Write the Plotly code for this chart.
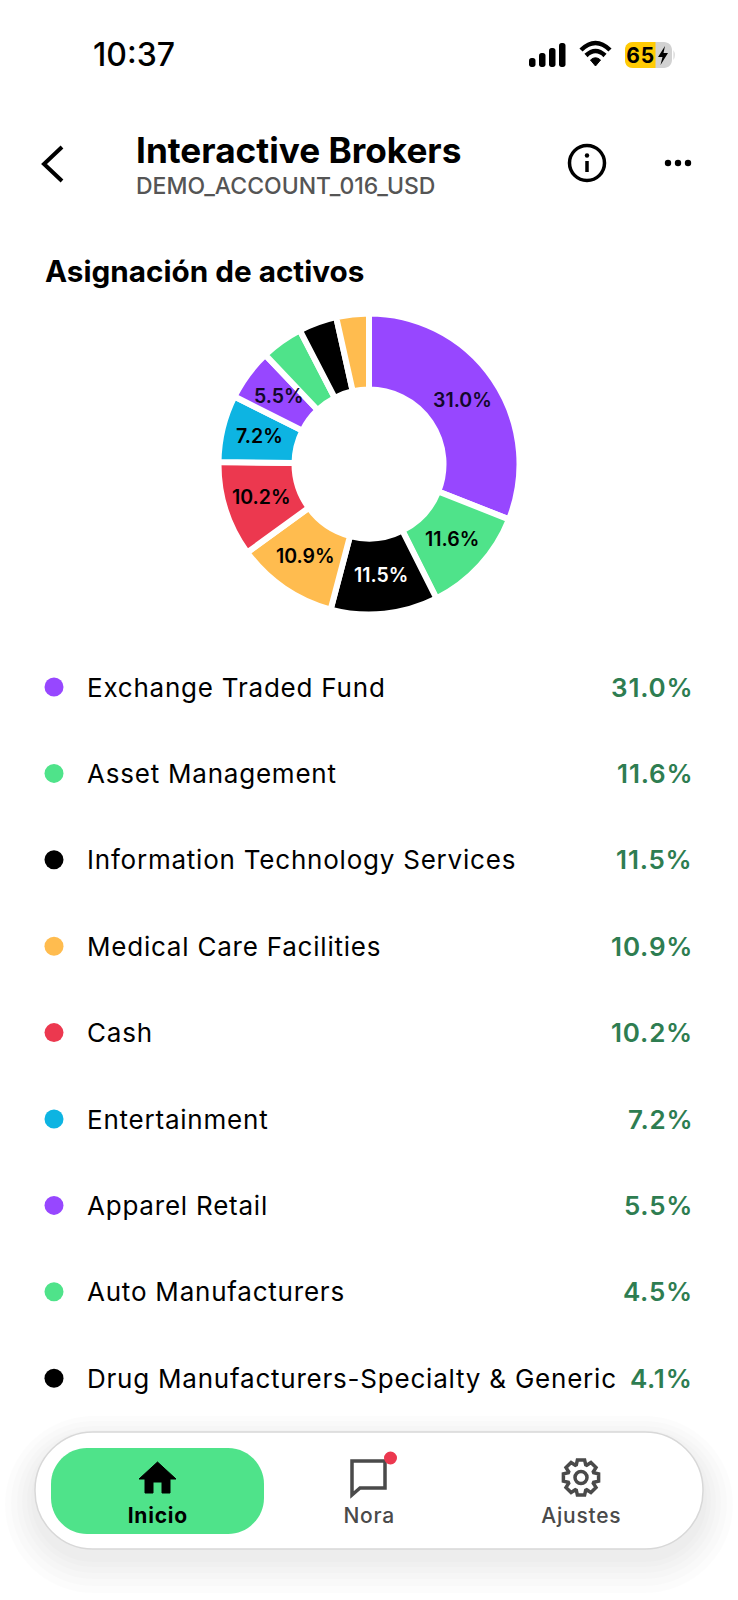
import numpy as np
import plotly.graph_objects as go

# chart data
slice_names = ["Exchange Traded Fund", "Asset Management", "Information Technology Services",
               "Medical Care Facilities", "Cash", "Entertainment", "Apparel Retail",
               "Auto Manufacturers", "Drug Manufacturers-Specialty & Generic", "Otros"]
slice_values = [31.0, 11.6, 11.5, 10.9, 10.2, 7.2, 5.5, 4.5, 4.1, 3.5]
slice_colors = ["#9747FF", "#4FE38A", "#000000", "#FFBC4F", "#EC384F",
                "#0DB4E2", "#9747FF", "#4FE38A", "#000000", "#FFBC4F"]
slice_labels = ["31.0%", "11.6%", "11.5%", "10.9%", "10.2%", "7.2%", "5.5%", "", "", ""]
label_colors = ["#12082A", "#000000", "#FFFFFF", "#000000", "#000000",
                "#000000", "#12082A", "#000000", "#000000", "#000000"]
# the last slice has no row, the list is scrolled under the nav bar
row_names = slice_names[:9]
row_values = ["31.0%", "11.6%", "11.5%", "10.9%", "10.2%", "7.2%", "5.5%", "4.5%", "4.1%"]
row_colors = slice_colors[:9]

W, H = 738, 1600
FONT = "Inter"
GREEN = "#4FE38A"
DARK = "#4A4A4A"


def pill(x0, y0, x1, y1, r):
    # rounded rect as a path, shapes have no arc command
    k = r * 0.45
    return (f"M{x0 + r},{y0} L{x1 - r},{y0} C{x1 - k},{y0} {x1},{y0 + k} {x1},{y0 + r} "
            f"L{x1},{y1 - r} C{x1},{y1 - k} {x1 - k},{y1} {x1 - r},{y1} "
            f"L{x0 + r},{y1} C{x0 + k},{y1} {x0},{y1 - k} {x0},{y1 - r} "
            f"L{x0},{y0 + r} C{x0},{y0 + k} {x0 + k},{y0} {x0 + r},{y0} Z")


def gear_path(cx, cy, r_out, r_in, teeth=8):
    pts = []
    step = 2 * np.pi / teeth
    for i in range(teeth):
        a = i * step - np.pi / 2
        for da, rad in [(-0.30, r_in), (-0.17, r_out), (0.17, r_out), (0.30, r_in)]:
            pts.append((cx + rad * np.cos(a + da * step * 1.5), cy + rad * np.sin(a + da * step * 1.5)))
    return "M" + " L".join(f"{x:.1f},{y:.1f}" for x, y in pts) + " Z"


def add_text(fig, x, y, text, size, color="#000000", anchor="left", weight=400):
    fig.add_annotation(x=x, y=y, text=text, showarrow=False, xanchor=anchor, align=anchor, yanchor="middle",
                       borderpad=0, font=dict(family=FONT, size=size, color=color, weight=weight))


def add_path(fig, path, fill=None, line=None, width=0):
    fig.add_shape(type="path", path=path, fillcolor=fill or "rgba(0,0,0,0)",
                  line=dict(color=line or "rgba(0,0,0,0)", width=width))


def add_circle(fig, cx, cy, r, fill=None, line=None, width=0):
    fig.add_shape(type="circle", x0=cx - r, x1=cx + r, y0=cy - r, y1=cy + r,
                  fillcolor=fill or "rgba(0,0,0,0)",
                  line=dict(color=line or "rgba(0,0,0,0)", width=width))


fig = go.Figure()

# donut
cx, cy, radius = 369, 464, 150.5
fig.add_trace(go.Pie(
    labels=slice_names, values=slice_values, textinfo="none", sort=False, direction="clockwise",
    rotation=0, hole=0.495, showlegend=False,
    marker=dict(colors=slice_colors, line=dict(color="#FFFFFF", width=6)),
    domain=dict(x=[(cx - radius) / W, (cx + radius) / W], y=[1 - (cy + radius) / H, 1 - (cy - radius) / H]),
))

# slice labels sit mid ring, pie's own inside text drifts on the small slices
ends = np.cumsum(slice_values)
mids = (ends - np.array(slice_values) / 2) / ends[-1] * 2 * np.pi
for mid, label, color in zip(mids, slice_labels, label_colors):
    if label:
        add_text(fig, cx + 112.5 * np.sin(mid), cy - 1 - 112.5 * np.cos(mid), label, 19.5,
                 color=color, anchor="center", weight=600)

# list rows
row_y = [687 + 86.4 * i for i in range(len(row_names))]
fig.add_trace(go.Scatter(x=[54] * len(row_y), y=row_y, mode="markers", showlegend=False,
                         marker=dict(size=19, color=row_colors, line=dict(width=0))))
for y, name, value in zip(row_y, row_names, row_values):
    add_text(fig, 85.5, y, name, 26)
    add_text(fig, 693.5, y, value, 26, color="#2E7D51", anchor="right", weight=600)

# status bar
add_text(fig, 92, 54, "10:37", 32, weight=500)
for x0, top in zip([529, 539, 549, 559], [58, 53, 48, 43]):
    add_path(fig, pill(x0, top, x0 + 6.5, 67, 2.5), fill="#000000")
add_path(fig, "M581,50 Q595.5,36 610,50", line="#000000", width=4.5)
add_path(fig, "M586,55.5 Q595.5,46.5 605,55.5", line="#000000", width=4.5)
add_path(fig, "M590.5,60 Q595.5,55.5 600.5,60 L595.5,66 Z", fill="#000000", line="#000000", width=1)
add_path(fig, pill(625, 42, 672, 68, 8), fill="#D2D2D2")
add_path(fig, "M633,42 L655.5,42 L655.5,68 L633,68 C628,68 625,65 625,60 L625,50 C625,45 628,42 633,42 Z", fill="#FFCB05")
add_path(fig, "M673.5,50 Q676,55 673.5,60 Z", fill="#D2D2D2")
add_text(fig, 640, 55, "65", 21, anchor="center", weight=700)
add_path(fig, "M665,46 L658,57 L662.5,57 L660.5,65 L668,53 L663.5,53 Z", fill="#000000")

# header
add_path(fig, "M62,147 L44,164 L62,181", line="#000000", width=4)
add_text(fig, 135, 150, "Interactive Brokers", 35.2, weight=700)
add_text(fig, 135, 186, "DEMO_ACCOUNT_016_USD", 23, color="#555555", weight=500)
add_circle(fig, 587, 163, 17.5, line="#000000", width=3.5)
add_circle(fig, 587, 155.5, 2.2, fill="#000000")
add_path(fig, "M587,161 L587,172", line="#000000", width=3.5)
for x in [668, 678, 688]:
    add_circle(fig, x, 163, 3.2, fill="#000000")
add_text(fig, 44, 271, "Asignación de activos", 29.7, weight=700)

# nav bar, shadow first
for grow, drop in [(30, 14), (24, 13), (18, 12), (13, 11), (8, 10), (4, 9)]:
    add_path(fig, pill(35 - grow, 1432 + drop - grow, 703 + grow, 1549 + drop + grow, 58 + grow),
             fill="rgba(0,0,0,0.011)")
add_path(fig, pill(35, 1432, 703, 1549, 58), fill="#FFFFFF", line="#D8D8D8", width=1.5)
add_path(fig, pill(51, 1448, 264, 1534, 36), fill=GREEN)
add_path(fig, "M139,1479 L157.5,1462 L176,1479 L170,1479 L170,1493 L162,1493 L162,1482 L153,1482 "
              "L153,1493 L145,1493 L145,1479 Z", fill="#000000", line="#000000", width=1)
add_text(fig, 157.5, 1515, "Inicio", 21, anchor="center", weight=700)
add_path(fig, "M352,1461 L385,1461 L385,1488 L360,1488 L352,1495 Z", line=DARK, width=3.5)
add_circle(fig, 390.5, 1458, 6.5, fill="#EC384F")
add_text(fig, 369, 1515, "Nora", 21, color=DARK, anchor="center", weight=500)
add_path(fig, gear_path(581, 1477.5, 18, 13.5), line=DARK, width=3.5)
add_circle(fig, 581, 1477.5, 6, line=DARK, width=3.5)
add_text(fig, 581, 1515, "Ajustes", 21, color=DARK, anchor="center", weight=500)

fig.update_xaxes(range=[0, W], visible=False, fixedrange=True)
fig.update_yaxes(range=[H, 0], visible=False, fixedrange=True)
fig.update_layout(width=W, height=H, margin=dict(l=0, r=0, t=0, b=0), autosize=False,
                  paper_bgcolor="#FFFFFF", plot_bgcolor="#FFFFFF", hovermode=False)

# the app spaces its list and nav labels out a little, plotly fonts have no option for it
spacing_js = """
document.body.style.margin = '0';
document.querySelectorAll('.annotation-text').forEach(function (t) {
    var s = parseFloat(t.style.fontSize);
    if (s === 26 || s === 21) { t.style.letterSpacing = '0.78px'; }
});
"""
fig.write_html("out.html", config=dict(displayModeBar=False), post_script=spacing_js)
